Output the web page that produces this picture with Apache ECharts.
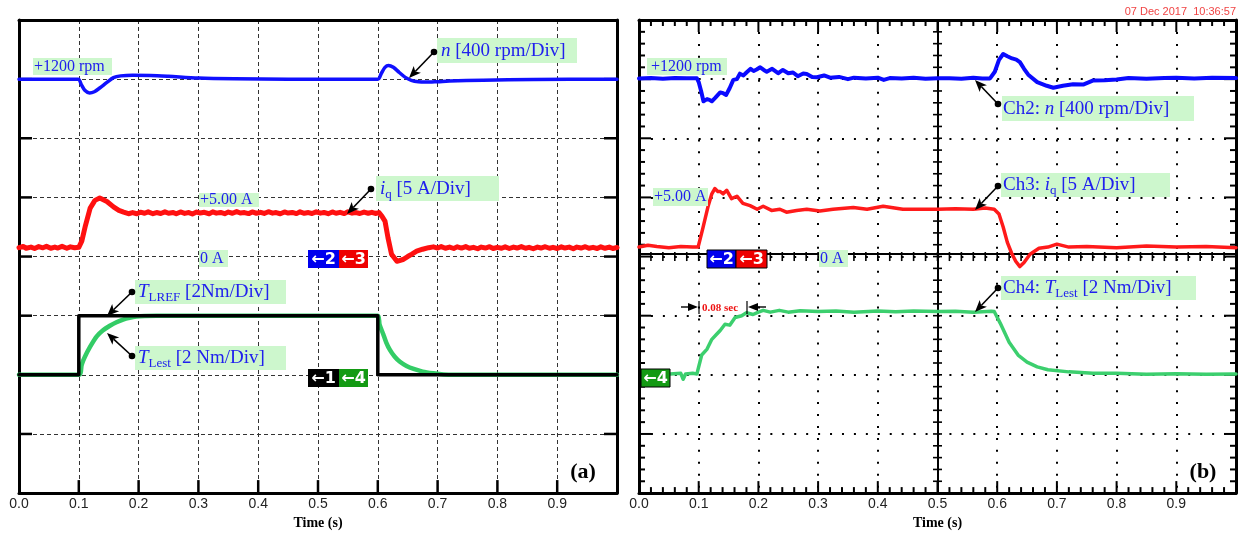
<!DOCTYPE html>
<html><head><meta charset="utf-8">
<script src="https://cdn.jsdelivr.net/npm/echarts@6/dist/echarts.min.js"></script>
<style>html,body{margin:0;padding:0;background:#fff}#c{width:1238px;height:535px}</style>
</head><body><div id="c"></div>
<script>
// ---------- tick labels ----------
const xTickLabels = ['0.0','0.1','0.2','0.3','0.4','0.5','0.6','0.7','0.8','0.9',''];

// ---------- (a) simulation: [time s, value] ----------
const leftSpeed = [[0,1200],[0.099,1200],[0.104,1165],[0.11,1125],[0.118,1107],[0.126,1115],[0.135,1140],[0.147,1178],[0.158,1210],[0.17,1222],[0.19,1227],[0.22,1225],[0.25,1219],[0.3,1207],[0.36,1202],[0.45,1200],[0.6,1200],[0.606,1240],[0.612,1280],[0.618,1293],[0.626,1280],[0.636,1245],[0.646,1212],[0.656,1192],[0.668,1182],[0.68,1180],[0.7,1183],[0.72,1187],[0.776,1193],[0.86,1198],[1,1200]];
const leftCurrent = [[0,0.75],[0.007,0.85],[0.012,0.7],[0.02,0.8],[0.026,0.68],[0.033,0.84],[0.04,0.74],[0.046,0.86],[0.053,0.7],[0.06,0.8],[0.065,0.72],[0.072,0.86],[0.08,0.7],[0.086,0.82],[0.093,0.74],[0.1,0.78],
[0.105,1.3],[0.111,2.6],[0.119,4.1],[0.127,4.75],[0.135,4.95],[0.147,4.65],[0.158,4.2],[0.167,3.9],[0.175,3.75],[0.183,3.62],[0.19,3.72],
[0.197,3.62],[0.203,3.75],[0.21,3.66],[0.216,3.78],[0.224,3.62],[0.23,3.72],[0.237,3.64],[0.244,3.78],[0.25,3.66],[0.258,3.72],[0.263,3.62],[0.27,3.77],[0.277,3.65],[0.284,3.72],[0.29,3.6],[0.297,3.76],[0.303,3.68],[0.31,3.74],[0.318,3.62],[0.324,3.78],[0.33,3.67],[0.337,3.73],[0.344,3.62],[0.35,3.76],[0.357,3.66],[0.364,3.8],[0.37,3.68],[0.377,3.72],[0.384,3.63],[0.39,3.77],[0.397,3.66],[0.404,3.74],[0.41,3.64],[0.417,3.79],[0.424,3.67],[0.43,3.72],[0.437,3.62],[0.444,3.77],[0.45,3.68],[0.457,3.73],[0.464,3.63],[0.47,3.78],[0.477,3.66],[0.484,3.72],[0.49,3.64],[0.497,3.78],[0.504,3.67],[0.51,3.73],[0.517,3.62],[0.524,3.77],[0.53,3.66],[0.537,3.74],[0.544,3.63],[0.55,3.78],[0.557,3.67],[0.564,3.72],[0.57,3.64],[0.577,3.76],[0.584,3.66],[0.59,3.74],[0.596,3.64],[0.602,3.72],
[0.607,3.4],[0.612,3.0],[0.617,1.6],[0.623,0.2],[0.632,-0.4],[0.642,-0.25],[0.65,0.0],[0.657,0.2],[0.665,0.45],[0.675,0.62],[0.685,0.75],[0.693,0.82],
[0.7,0.72],[0.706,0.84],[0.713,0.7],[0.72,0.8],[0.727,0.68],[0.733,0.82],[0.74,0.72],[0.747,0.84],[0.753,0.7],[0.76,0.78],[0.767,0.66],[0.773,0.8],[0.78,0.72],[0.787,0.83],[0.793,0.68],[0.8,0.78],[0.807,0.7],[0.813,0.82],[0.82,0.68],[0.827,0.8],[0.833,0.72],[0.84,0.84],[0.847,0.7],[0.853,0.78],[0.86,0.66],[0.867,0.8],[0.873,0.72],[0.88,0.83],[0.887,0.7],[0.893,0.78],[0.9,0.68],[0.907,0.82],[0.913,0.72],[0.92,0.8],[0.927,0.66],[0.933,0.8],[0.94,0.72],[0.947,0.83],[0.953,0.7],[0.96,0.78],[0.967,0.68],[0.973,0.82],[0.98,0.7],[0.987,0.8],[0.993,0.68],[1,0.76]];
const leftTorqueRef = [[0,0],[0.1,0],[0.1,2],[0.6,2],[0.6,0],[1,0]];
const leftTorqueEst = [[0,0],[0.1,0],[0.105,0.35],[0.11,0.6],[0.119,0.95],[0.13,1.3],[0.14,1.5],[0.152,1.66],[0.163,1.78],[0.174,1.87],[0.185,1.93],[0.196,1.97],[0.21,1.99],[0.23,2],[0.6,2],[0.603,1.7],[0.609,1.38],[0.614,1.1],[0.62,0.85],[0.628,0.62],[0.637,0.44],[0.648,0.3],[0.66,0.2],[0.675,0.11],[0.693,0.05],[0.71,0.01],[0.73,0],[1,0]];

// ---------- (b) experiment ----------
const rightSpeed = [[0,1205],[0.02,1208],[0.04,1203],[0.06,1208],[0.08,1206],[0.097,1206],[0.1,1180],[0.104,1120],[0.108,1050],[0.114,1065],[0.118,1060],[0.122,1050],[0.128,1075],[0.136,1110],[0.141,1105],[0.146,1093],[0.152,1140],[0.158,1195],[0.164,1200],[0.169,1237],[0.175,1225],[0.18,1245],[0.187,1270],[0.192,1255],[0.197,1265],[0.203,1280],[0.209,1262],[0.214,1250],[0.223,1270],[0.233,1240],[0.241,1262],[0.25,1240],[0.258,1245],[0.266,1220],[0.275,1238],[0.281,1235],[0.29,1215],[0.298,1213],[0.31,1225],[0.32,1210],[0.335,1215],[0.35,1200],[0.36,1210],[0.38,1205],[0.4,1210],[0.41,1195],[0.42,1207],[0.44,1205],[0.46,1210],[0.48,1203],[0.5,1206],[0.52,1206],[0.54,1203],[0.56,1210],[0.575,1205],[0.588,1205],[0.596,1250],[0.603,1330],[0.61,1370],[0.617,1355],[0.625,1340],[0.632,1332],[0.638,1315],[0.645,1270],[0.652,1230],[0.667,1180],[0.683,1155],[0.694,1142],[0.71,1155],[0.727,1165],[0.744,1163],[0.76,1190],[0.78,1192],[0.8,1197],[0.82,1207],[0.85,1203],[0.88,1207],[0.9,1210],[0.93,1205],[0.96,1210],[1,1207]];
const rightCurrent = [[0,0.8],[0.015,0.95],[0.03,0.85],[0.05,0.75],[0.07,0.85],[0.09,0.8],[0.099,0.8],[0.107,2.4],[0.116,4.3],[0.122,5.3],[0.127,5.75],[0.132,5.5],[0.136,5.5],[0.141,5.3],[0.147,5.6],[0.155,4.9],[0.164,5.1],[0.174,4.5],[0.186,4.3],[0.198,4.0],[0.208,4.25],[0.222,3.9],[0.236,4.0],[0.247,3.75],[0.264,3.9],[0.281,4.0],[0.303,3.85],[0.325,4.0],[0.359,4.15],[0.382,4.0],[0.409,4.25],[0.442,4.0],[0.47,4.0],[0.5,4.0],[0.53,4.05],[0.56,4.0],[0.58,4.1],[0.595,4.0],[0.603,3.6],[0.61,2.5],[0.617,1.2],[0.624,0.3],[0.631,-0.4],[0.638,-0.85],[0.645,-0.5],[0.655,0.2],[0.67,0.7],[0.685,0.8],[0.7,1.05],[0.72,0.8],[0.75,0.85],[0.8,0.75],[0.85,0.9],[0.9,0.8],[0.95,0.85],[1,0.75]];
const rightTorqueEst = [[0.052,0.03],[0.07,0.05],[0.074,-0.15],[0.078,0.03],[0.09,0.05],[0.097,0.03],[0.105,0.67],[0.114,0.87],[0.122,1.2],[0.13,1.37],[0.136,1.5],[0.144,1.71],[0.152,1.68],[0.161,1.94],[0.172,2.0],[0.18,2.1],[0.191,2.04],[0.2,2.12],[0.208,2.18],[0.22,2.12],[0.235,2.18],[0.25,2.12],[0.27,2.17],[0.3,2.14],[0.33,2.16],[0.36,2.12],[0.4,2.16],[0.43,2.13],[0.46,2.16],[0.5,2.14],[0.53,2.15],[0.56,2.12],[0.59,2.15],[0.595,2.14],[0.605,1.75],[0.62,1.1],[0.635,0.67],[0.65,0.43],[0.667,0.27],[0.685,0.17],[0.72,0.1],[0.76,0.05],[0.8,0.05],[0.85,0.02],[0.9,0.04],[0.95,0.02],[1,0.03]];

// ---------- styling helpers ----------
const SERIF = '"Liberation Serif","Times New Roman",serif';
const SANS = '"Liberation Sans",Arial,sans-serif';
const BG = '#cdf7cd', TXT = '#2020ee';
const g = [];
function box(x,y,w,h){ g.push({type:'rect',shape:{x,y,width:w,height:h},style:{fill:BG},z:50}); }
function label(x,y,text,size,rich){
  g.push({type:'text',x,y,z:55,style:{text,fill:TXT,font:size+'px '+SERIF,verticalAlign:'middle',rich:rich||{}}});
}
function arrow(x1,y1,x2,y2){
  const dx=x2-x1, dy=y2-y1, L=Math.hypot(dx,dy), ux=dx/L, uy=dy/L, hl=12, hw=5;
  const bx=x2-ux*hl, by=y2-uy*hl;
  g.push({type:'line',shape:{x1,y1,x2:bx+ux*3,y2:by+uy*3},style:{stroke:'#000',lineWidth:1.6},z:60});
  g.push({type:'polygon',shape:{points:[[x2,y2],[bx-uy*hw,by+ux*hw],[bx+ux*3,by+uy*3],[bx+uy*hw,by-ux*hw]]},style:{fill:'#000'},z:60});
  g.push({type:'circle',shape:{cx:x1,cy:y1,r:3.3},style:{fill:'#000'},z:60});
}
function chan(x,y,w,h,fill,t,border){
  g.push({type:'rect',shape:{x,y,width:w,height:h},style:{fill,stroke:border?'#000':null,lineWidth:border?1:0},z:50});
  g.push({type:'text',x:x+w/2,y:y+h/2+0.5,z:55,style:{text:t,fill:'#fff',font:'bold 16px "DejaVu Sans",'+SANS,align:'center',verticalAlign:'middle'}});
}
const RICH = {
  i:{fontStyle:'italic',fontSize:19,fontFamily:SERIF,fill:TXT},
  s:{fontSize:13,fontFamily:SERIF,fill:TXT,verticalAlign:'bottom',lineHeight:24},
  n:{fontSize:19,fontFamily:SERIF,fill:TXT}
};

// left (a)
box(33,58,79,17); label(34,67,'+1200 rpm',16);
box(437,38,140,25); label(441,51,'{i|n}{n| [400 rpm/Div]}',19,RICH); arrow(434,52,409,78);
box(199,193,60,14); label(200,200,'+5.00 A',16);
box(199,250,29,17); label(200,259,'0 A',16);
box(376,176,123,25); label(380,189,'{i|i}{s|q}{n| [5 A/Div]}',19,RICH); arrow(371,189,347,214);
box(135,280,151,24); label(138,292,'{i|T}{s|LREF}{n| [2Nm/Div]}',19,RICH); arrow(132,292,107,316);
box(135,346,151,24); label(138,358,'{i|T}{s|Lest}{n| [2 Nm/Div]}',19,RICH); arrow(132,356,107,333);
chan(308,250,31,18,'#0000ee','\u21902'); chan(339,250,29,18,'#ee0000','\u21903');
chan(308,369,31,18,'#000000','\u21901'); chan(339,369,29,18,'#139a13','\u21904');
g.push({type:'text',x:583,y:472,z:55,style:{text:'(a)',fill:'#000',font:'bold 22px '+SERIF,align:'center',verticalAlign:'middle'}});

// right (b)
box(647,58,80,17); label(651,67,'+1200 rpm',16);
box(1002,96,192,25); label(1003,109,'{n|Ch2: }{i|n}{n| [400 rpm/Div]}',19,RICH); arrow(998,104,975,80);
box(653,188,55,18); label(654,197,'+5.00 A',16);
box(819,250,29,17); label(820,259,'0 A',16);
box(1001,173,169,24); label(1003,185,'{n|Ch3: }{i|i}{s|q}{n| [5 A/Div]}',19,RICH); arrow(998,186,975,210);
box(1001,276,195,24); label(1003,288,'{n|Ch4: }{i|T}{s|Lest}{n| [2 Nm/Div]}',19,RICH); arrow(998,288,975,312);
chan(707,250,29,18,'#0000ee','\u21902',true); chan(736,250,31,18,'#ee0000','\u21903',true);
chan(641,369,29,18,'#139a13','\u21904',true);
g.push({type:'text',x:702,y:308,z:55,style:{text:'0.08 sec',fill:'#ee1111',font:'bold 11px '+SERIF,verticalAlign:'middle'}});
g.push({type:'line',shape:{x1:699,y1:301,x2:699,y2:314},style:{stroke:'#000',lineWidth:1.2},z:60});
g.push({type:'line',shape:{x1:747,y1:301,x2:747,y2:314},style:{stroke:'#000',lineWidth:1.2},z:60});
g.push({type:'line',shape:{x1:681,y1:307,x2:690,y2:307},style:{stroke:'#000',lineWidth:1.4},z:60});
g.push({type:'polygon',shape:{points:[[698,307],[688,303],[688,311]]},style:{fill:'#000'},z:60});
g.push({type:'line',shape:{x1:757,y1:307,x2:766,y2:307},style:{stroke:'#000',lineWidth:1.4},z:60});
g.push({type:'polygon',shape:{points:[[748,307],[758,303],[758,311]]},style:{fill:'#000'},z:60});
g.push({type:'text',x:1203,y:472,z:55,style:{text:'(b)',fill:'#000',font:'bold 22px '+SERIF,align:'center',verticalAlign:'middle'}});
g.push({type:'text',x:1236,y:12,z:55,style:{text:'07 Dec 2017  10:36:57',fill:'#f04444',font:'11px '+SANS,align:'right',verticalAlign:'middle'}});

// ---------- axes ----------
const lblFmt = v => { const s = xTickLabels[Math.round(v*10)]; return s === undefined ? '' : s; };
const border = (w) => ({show:true, onZero:false, lineStyle:{color:'#000', width:w}});
const dash = () => ({show:true, lineStyle:{color:'#333', width:1, type:[4,3]}});
const dot = () => ({show:true, lineStyle:{color:'#000', width:2, type:[2,9.94]}});
const off = () => ({show:false});
const tAxis = (gi, extra) => Object.assign({type:'value', gridIndex:gi, min:0, max:1, interval:0.1, position:'bottom', axisLine:border(3), axisLabel:off(), axisTick:off(), splitLine:off()}, extra);
const labelled = () => ({
  axisLabel:{show:true, formatter:lblFmt, margin:4, fontSize:14, fontFamily:SANS, color:'#222', showMaxLabel:false},
  name:'Time (s)', nameLocation:'middle', nameGap:16,
  nameTextStyle:{fontFamily:SERIF, fontWeight:'bold', fontSize:14, color:'#000'}
});
const dAxis = (gi, extra) => Object.assign({type:'value', gridIndex:gi, min:0, max:8, interval:1, position:'left', axisLine:border(3), axisLabel:off(), axisTick:off(), splitLine:off()}, extra);
const hAxis = (gi, mn, mx) => ({type:'value', gridIndex:gi, min:mn, max:mx, show:false, position:'left'});

const xAxis = [
  tAxis(0, Object.assign(labelled(), {splitLine:dash()})),   //0 left bottom
  tAxis(0, {position:'top'}),                                 //1 left top border
  tAxis(1, Object.assign(labelled(), {splitLine:dot()})),    //2 right bottom
  tAxis(1, {position:'top'}),                                 //3 right top
  tAxis(1, {offset:-239.5, axisLine:border(2)})               //4 crosshair (horizontal centre line)
];
const yAxis = [
  dAxis(0, {splitLine:dash()}),             //0 left panel, left border (divisions)
  dAxis(0, {position:'right'}),             //1 left panel, right border
  hAxis(0,-1600,1600),                      //2 speed (rpm), 400 rpm/div
  hAxis(0,-20,20),                          //3 current (A), 5 A/div
  hAxis(0,-4,12),                           //4 torque (Nm), 2 Nm/div
  dAxis(1, {splitLine:dot()}),              //5 right panel, left border
  dAxis(1, {position:'right'}),             //6 right panel, right border
  dAxis(1, {offset:-298.5, axisLine:border(2)}), //7 crosshair (vertical centre line)
  hAxis(1,-1600,1600),                      //8
  hAxis(1,-20,20),                          //9
  hAxis(1,-4,12)                            //10
];

const line = (data, xi, yi, color, width, smooth, z) => ({type:'line', data, xAxisIndex:xi, yAxisIndex:yi, symbol:'none', smooth:smooth||false, z:z||2, lineStyle:{color, width, cap:'round', join:'round'}, itemStyle:{color}});

const chart = echarts.init(document.getElementById('c'));
chart.setOption({
  animation:false,
  backgroundColor:'#fff',
  grid:[
    {left:19, top:20, width:598, height:479},
    {left:639, top:20, width:597, height:479}
  ],
  xAxis, yAxis,
  series:[
    line(leftSpeed,0,2,'#1010ff',3.5,0.3,3),
    line(leftCurrent,0,3,'#ff1010',5,false,3),
    line(leftTorqueEst,0,4,'#33cc66',4.5,0.3,3),
    line(leftTorqueRef,0,4,'#000000',3.5,false,4),
    line(rightSpeed,2,8,'#0a0aff',4,false,3),
    line(rightCurrent,2,9,'#ff1a1a',3.5,false,3),
    line(rightTorqueEst,2,10,'#3ccf6e',3.5,false,3)
  ],
  graphic: g
});

// ---------- axis tick marks, positioned through the axes' own scales ----------
const tk = [];
const seg = (x1,y1,x2,y2,w) => tk.push({type:'line', shape:{x1,y1,x2,y2}, style:{stroke:'#000', lineWidth:w}, z:1});
const px = (xi, v) => chart.convertToPixel({xAxisIndex:xi}, v);
const py = (yi, v) => chart.convertToPixel({yAxisIndex:yi}, v);
// (a): major ticks on left, right and bottom edges
{
  const xl = px(0,0), xr = px(0,1), yb = py(0,0);
  for (let k = 1; k < 10; k++) { const x = px(0, k/10); seg(x, yb, x, yb-13, 2.5); }
  for (let k = 1; k < 8; k++) { const y = py(0, k); seg(xl, y, xl+13, y, 2.5); seg(xr, y, xr-13, y, 2.5); }
}
// (b): major + minor ticks on all four edges and on the centre cross
{
  const xl = px(2,0), xr = px(2,1), yb = py(5,0), yt = py(5,8), xc = px(2,0.5), yc = py(5,4);
  for (let k = 1; k < 50; k++) {
    const x = px(2, k/50), len = (k % 5 === 0) ? 12 : 6;
    seg(x, yb, x, yb-len, 2); seg(x, yt, x, yt+len, 2); seg(x, yc-4.5, x, yc+4.5, 1.6);
  }
  for (let k = 1; k < 40; k++) {
    const y = py(5, k/5), len = (k % 5 === 0) ? 12 : 6;
    seg(xl, y, xl+len, y, 2); seg(xr, y, xr-len, y, 2); seg(xc-4.5, y, xc+4.5, y, 1.6);
  }
}
chart.setOption({graphic: g.concat(tk)});
</script></body></html>
